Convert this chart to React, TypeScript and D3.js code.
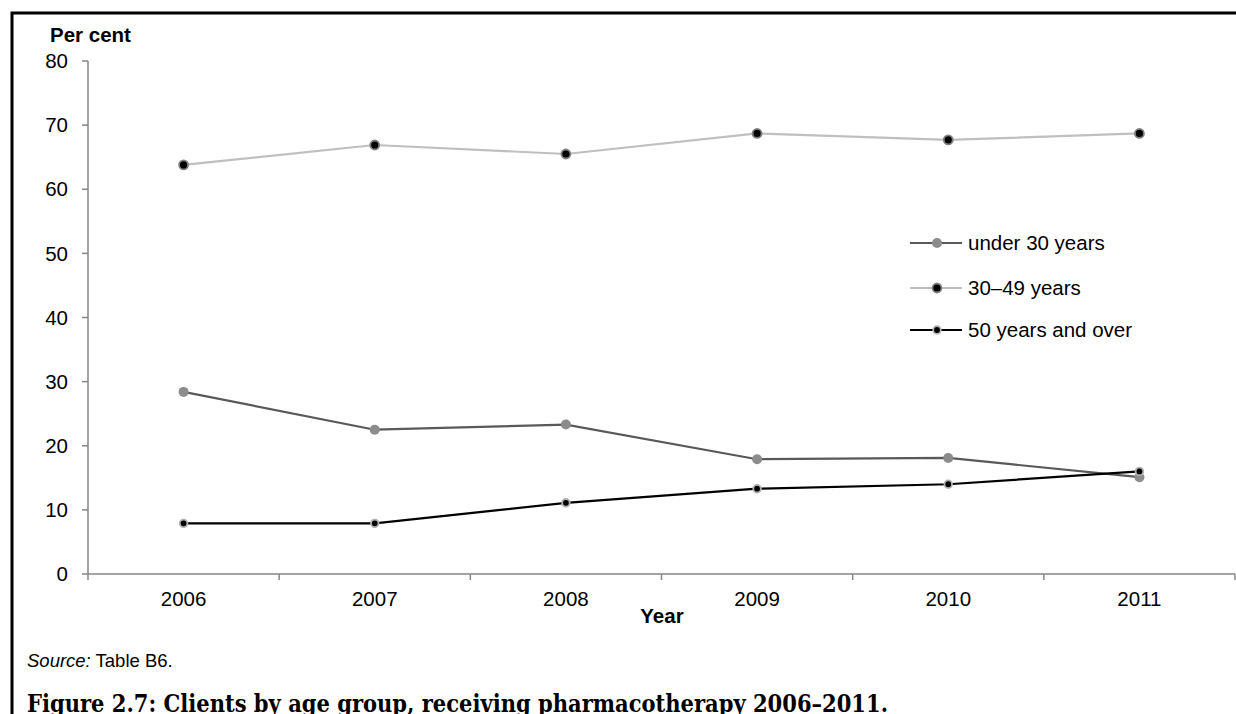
import { useEffect, useRef } from 'react';
import * as d3 from 'd3';

const years = ['2006', '2007', '2008', '2009', '2010', '2011'];
const under30 = [28.4, 22.5, 23.3, 17.9, 18.1, 15.1];
const age30to49 = [63.8, 66.9, 65.5, 68.7, 67.7, 68.7];
const over50 = [7.9, 7.9, 11.1, 13.3, 14.0, 16.0];
const yTicks = [0, 10, 20, 30, 40, 50, 60, 70, 80];

const series = [
  { name: 'under 30 years', values: under30, line: '#595959', fill: '#8c8c8c', stroke: '#8c8c8c', r: 5 },
  { name: '30\u201349 years', values: age30to49, line: '#bfbfbf', fill: '#000', stroke: '#808080', r: 4.5 },
  { name: '50 years and over', values: over50, line: '#000', fill: '#000', stroke: '#b0b0b0', r: 3.8 },
];

const W = 1236;
const H = 714;
const font = 'Liberation Sans, Arial, sans-serif';
const fs = 20.5;

export default function App() {
  const svgRef = useRef<SVGSVGElement>(null);

  useEffect(() => {
    if (!svgRef.current) return;
    const svg = d3.select(svgRef.current);
    svg.selectAll('*').remove();

    const left = 88;
    const right = 1235;
    const top = 61;
    const bottom = 574;

    const x = d3.scaleBand<string>().domain(years).range([left, right]);
    const y = d3.scaleLinear().domain([0, 80]).range([bottom, top]);

    // frame
    svg.append('path')
      .attr('d', `M12,${H + 2} L12,13 L${W + 2},13`)
      .attr('fill', 'none')
      .attr('stroke', '#000')
      .attr('stroke-width', 3);

    // y axis
    svg.append('line')
      .attr('x1', left).attr('x2', left)
      .attr('y1', top).attr('y2', bottom)
      .attr('stroke', '#868686').attr('stroke-width', 1.5);
    yTicks.forEach((t) => {
      svg.append('line')
        .attr('x1', left - 6).attr('x2', left)
        .attr('y1', y(t)).attr('y2', y(t))
        .attr('stroke', '#868686').attr('stroke-width', 1.5);
      svg.append('text')
        .attr('x', left - 20)
        .attr('y', y(t))
        .attr('dy', '0.35em')
        .attr('text-anchor', 'end')
        .attr('font-family', font)
        .attr('font-size', fs)
        .attr('fill', '#000')
        .text(t);
    });

    // x axis
    svg.append('line')
      .attr('x1', left).attr('x2', right)
      .attr('y1', bottom).attr('y2', bottom)
      .attr('stroke', '#868686').attr('stroke-width', 1.5);
    const edges = years.map((yr) => x(yr) ?? 0).concat([right]);
    edges.forEach((ex) => {
      svg.append('line')
        .attr('x1', ex).attr('x2', ex)
        .attr('y1', bottom).attr('y2', bottom + 6)
        .attr('stroke', '#868686').attr('stroke-width', 1.5);
    });
    years.forEach((yr) => {
      svg.append('text')
        .attr('x', (x(yr) ?? 0) + x.bandwidth() / 2)
        .attr('y', 606)
        .attr('text-anchor', 'middle')
        .attr('font-family', font)
        .attr('font-size', fs)
        .attr('fill', '#000')
        .text(yr);
    });

    // axis titles
    svg.append('text')
      .attr('x', 50).attr('y', 42)
      .attr('font-family', font).attr('font-size', fs).attr('font-weight', 'bold')
      .text('Per cent');
    svg.append('text')
      .attr('x', 662).attr('y', 623)
      .attr('text-anchor', 'middle')
      .attr('font-family', font).attr('font-size', fs).attr('font-weight', 'bold')
      .text('Year');

    const cx = (i: number) => (x(years[i]) ?? 0) + x.bandwidth() / 2;

    // lines + markers
    series.forEach((s) => {
      const line = d3.line<number>().x((_, i) => cx(i)).y((d) => y(d));
      svg.append('path')
        .attr('d', line(s.values) ?? '')
        .attr('fill', 'none')
        .attr('stroke', s.line)
        .attr('stroke-width', 2.2);
    });
    series.forEach((s) => {
      svg.append('g')
        .selectAll('circle')
        .data(s.values)
        .join('circle')
        .attr('cx', (_, i) => cx(i))
        .attr('cy', (d) => y(d))
        .attr('r', s.r)
        .attr('fill', s.fill)
        .attr('stroke', s.stroke)
        .attr('stroke-width', s.fill === '#000' ? 1.8 : 0);
    });

    // legend
    const legendRows = [243, 288, 330];
    series.forEach((s, i) => {
      const ly = legendRows[i];
      svg.append('line')
        .attr('x1', 910).attr('x2', 962)
        .attr('y1', ly).attr('y2', ly)
        .attr('stroke', s.line).attr('stroke-width', 2.2);
      svg.append('circle')
        .attr('cx', 937).attr('cy', ly).attr('r', s.r)
        .attr('fill', s.fill).attr('stroke', s.stroke)
        .attr('stroke-width', s.fill === '#000' ? 1.8 : 0);
      svg.append('text')
        .attr('x', 968).attr('y', ly).attr('dy', '0.35em')
        .attr('font-family', font).attr('font-size', fs)
        .text(s.name);
    });

    // source note
    const src = svg.append('text')
      .attr('x', 27).attr('y', 667)
      .attr('font-family', font).attr('font-size', 18.5);
    src.append('tspan').attr('font-style', 'italic').text('Source:');
    src.append('tspan').text(' Table B6.');

    // figure caption
    svg.append('text')
      .attr('x', 27).attr('y', 712)
      .attr('font-family', 'DejaVu Serif, Liberation Serif, serif')
      .attr('font-size', 24)
      .attr('font-weight', 'bold')
      .attr('textLength', 861)
      .attr('lengthAdjust', 'spacingAndGlyphs')
      .text('Figure 2.7: Clients by age group, receiving pharmacotherapy 2006\u20132011.');
  }, []);

  return (
    <svg
      ref={svgRef}
      width={W}
      height={H}
      style={{ position: 'absolute', left: 0, top: 0, background: '#fff' }}
    />
  );
}
